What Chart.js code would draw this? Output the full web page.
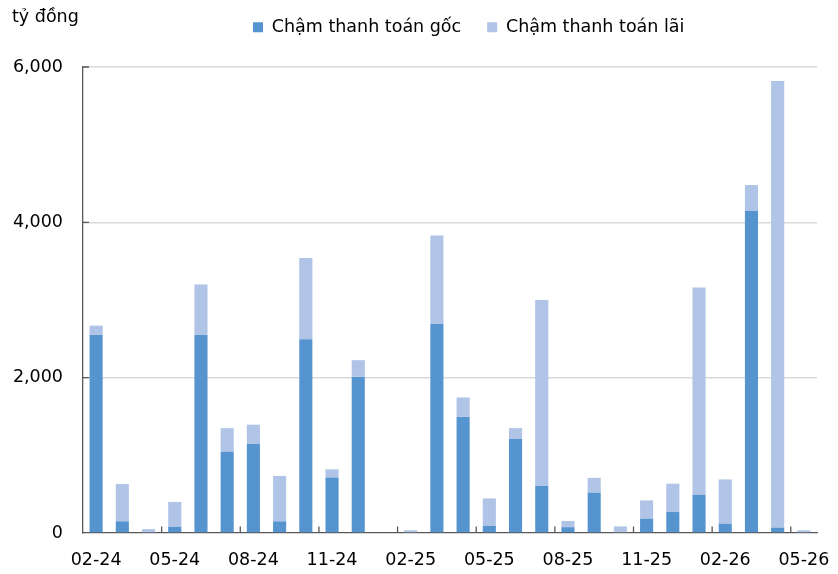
<!DOCTYPE html>
<html>
<head>
<meta charset="utf-8">
<script src="https://cdn.jsdelivr.net/npm/chart.js@4/dist/chart.umd.min.js"></script>
<style>
  html, body { margin: 0; padding: 0; background: #ffffff; }
  #wrap { width: 838px; height: 574px; }
</style>
</head>
<body>
<div id="wrap"><canvas id="chart" width="838" height="574"></canvas></div>
<script>
// Months shown on the category axis (MM-YY)
const months = [
  '02-24', '03-24', '04-24', '05-24', '06-24', '07-24', '08-24', '09-24', '10-24', '11-24', '12-24',
  '01-25', '02-25', '03-25', '04-25', '05-25', '06-25', '07-25', '08-25', '09-25', '10-25', '11-25', '12-25',
  '01-26', '02-26', '03-26', '04-26', '05-26'
];

// Late principal payments (tỷ đồng)
const principalLate = [
  2550, 150, 0, 80, 2550, 1045, 1145, 150, 2495, 715, 2010,
  0, 0, 2690, 1495, 90, 1210, 605, 75, 520, 0, 185, 270,
  490, 120, 4150, 70, 0
];

// Late interest payments (tỷ đồng), stacked on top of principal
const interestLate = [
  120, 480, 50, 320, 650, 305, 250, 585, 1045, 105, 215,
  0, 35, 1140, 250, 355, 140, 2395, 80, 190, 85, 235, 365,
  2670, 570, 330, 5750, 35
];

const seriesNames = ['Chậm thanh toán gốc', 'Chậm thanh toán lãi'];
const seriesColors = ['#5694cf', '#afc4e6'];
const yTickValues = [0, 2000, 4000, 6000];
const unitLabel = 'tỷ đồng';
const labelEvery = 3;

const FONT = 'DejaVu Sans';
const FONT_SIZE = 17.5;
const AXIS_COLOR = '#595959';
const GRID_COLOR = '#d9d9d9';

Chart.defaults.font.family = FONT;
Chart.defaults.font.size = FONT_SIZE;
Chart.defaults.color = '#000000';

// Short tick marks drawn inside the plot: at every labelled month boundary and at each value tick
const innerTicks = {
  id: 'innerTicks',
  afterDatasetsDraw(chart) {
    const { ctx, scales: { x, y } } = chart;
    const half = (x.getPixelForTick(1) - x.getPixelForTick(0)) / 2;
    const base = y.getPixelForValue(0);
    ctx.save();
    ctx.strokeStyle = AXIS_COLOR;
    ctx.lineWidth = 1.3;
    ctx.beginPath();
    months.forEach((m, i) => {
      if (i % labelEvery !== 0 || i === 0) return;
      const px = x.getPixelForTick(i) - half;
      ctx.moveTo(px, base);
      ctx.lineTo(px, base - 6.5);
    });
    yTickValues.forEach(v => {
      if (v === 0) return;
      const py = y.getPixelForValue(v);
      ctx.moveTo(x.left, py);
      ctx.lineTo(x.left + 6, py);
    });
    ctx.stroke();
    ctx.restore();
  }
};

// Unit caption above the value axis
const unitCaption = {
  id: 'unitCaption',
  afterDraw(chart) {
    const { ctx } = chart;
    ctx.save();
    ctx.font = FONT_SIZE + 'px "' + FONT + '"';
    ctx.fillStyle = '#000000';
    ctx.textAlign = 'left';
    ctx.textBaseline = 'alphabetic';
    ctx.fillText(unitLabel, 12, 22);
    ctx.restore();
  }
};

// Place the legend row in the header band, to the right of the unit caption
const legendPlacement = {
  id: 'legendPlacement',
  afterLayout(chart) {
    const lg = chart.legend;
    if (!lg) return;
    const pad = lg.options.labels.padding;
    const w = lg.right - lg.left;
    const h = lg.bottom - lg.top;
    lg.left = 253 - pad;
    lg.right = lg.left + w;
    lg.top = 18.5 - pad;
    lg.bottom = lg.top + h;
  }
};

new Chart(document.getElementById('chart'), {
  type: 'bar',
  data: {
    labels: months,
    datasets: [
      {
        label: seriesNames[0],
        data: principalLate,
        backgroundColor: seriesColors[0],
        borderWidth: 0,
        categoryPercentage: 1,
        barPercentage: 0.5
      },
      {
        label: seriesNames[1],
        data: interestLate,
        backgroundColor: seriesColors[1],
        borderWidth: 0,
        categoryPercentage: 1,
        barPercentage: 0.5
      }
    ]
  },
  options: {
    responsive: false,
    animation: false,
    devicePixelRatio: 1,
    layout: { padding: { top: 13.5, right: 21, bottom: 0, left: 0 } },
    plugins: {
      legend: {
        position: 'top',
        align: 'start',
        labels: {
          boxWidth: 10,
          boxHeight: 10,
          padding: 26,
          color: '#000000',
          font: { family: FONT, size: FONT_SIZE }
        }
      },
      tooltip: { enabled: false }
    },
    scales: {
      x: {
        stacked: true,
        offset: true,
        grid: { display: false, drawTicks: false },
        border: { display: true, color: AXIS_COLOR, width: 1.3 },
        ticks: {
          autoSkip: false,
          maxRotation: 0,
          minRotation: 0,
          padding: 17,
          color: '#000000',
          callback: (v, i) => (i % labelEvery === 0 ? months[i] : '')
        },
        afterFit: (s) => {
          s.height = 41;
          s.paddingLeft = 0;
          s.paddingRight = 0;
        }
      },
      y: {
        stacked: true,
        min: 0,
        max: 6000,
        afterBuildTicks: (s) => { s.ticks = yTickValues.map(v => ({ value: v })); },
        grid: {
          drawTicks: false,
          lineWidth: 1.5,
          color: (c) => (c.tick && c.tick.value === 0 ? 'rgba(0,0,0,0)' : GRID_COLOR)
        },
        border: { display: true, color: AXIS_COLOR, width: 1.3 },
        ticks: {
          padding: 20,
          color: '#000000',
          callback: (v) => Number(v).toLocaleString('en-US')
        },
        afterFit: (s) => { s.width = 83; }
      }
    }
  },
  plugins: [legendPlacement, innerTicks, unitCaption]
});
</script>
</body>
</html>
